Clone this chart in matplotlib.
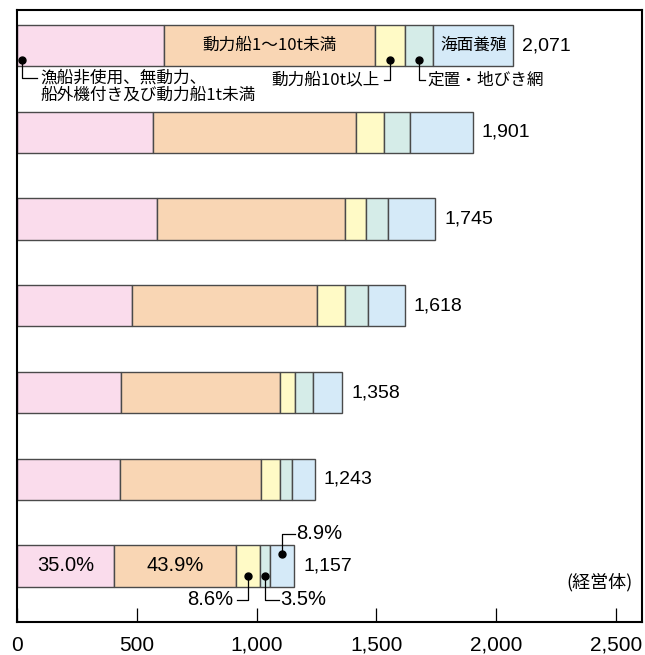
import numpy as np
import matplotlib.pyplot as plt

plt.rcParams['font.family'] = ['Liberation Sans', 'Noto Sans CJK JP']
jp = ['Noto Sans CJK JP']

# segment values per bar, top bar first (経営体)
non_powered = [613, 568, 583, 479, 436, 431, 405]
powered_1_10t = [881, 848, 785, 771, 661, 589, 508]
powered_10t_over = [125, 114, 90, 120, 65, 77, 100]
set_net = [117, 111, 92, 96, 74, 50, 41]
aquaculture = [335, 260, 195, 152, 122, 96, 103]
totals = [2071, 1901, 1745, 1618, 1358, 1243, 1157]
last_shares = ['35.0%', '43.9%', '8.6%', '3.5%', '8.9%']

series = [non_powered, powered_1_10t, powered_10t_over, set_net, aquaculture]
colors = ['#fadcec', '#f9d6b4', '#fffac6', '#d5ece8', '#d5eaf8']
edge = '#4a4a4a'

fig = plt.figure(figsize=(6.45, 6.55), dpi=100)
ax = fig.add_axes([17 / 645, 33 / 655, 625 / 645, 612 / 655])

n = len(totals)
y = np.arange(n)[::-1]
left = np.zeros(n)
for vals, c in zip(series, colors):
    ax.barh(y, vals, left=left, height=0.475, color=c, edgecolor=edge, linewidth=1.0)
    left += np.array(vals)

for yi, t in zip(y, totals):
    ax.annotate(f'{t:,}', (t, yi), xytext=(6.5, 0), textcoords='offset points',
                ha='left', va='center', fontsize=14)

cum = np.cumsum(np.array(series), axis=0)
top, bot = y[0], y[-1]

# labels for the top bar
ax.text((cum[0][0] + cum[1][0]) / 2, top, '動力船1～10t未満', ha='center', va='center',
        fontsize=12, family=jp)
ax.text((cum[3][0] + cum[4][0]) / 2, top, '海面養殖', ha='center', va='center', fontsize=12, family=jp)

dot = dict(marker='o', ms=5, color='black', zorder=5)
line = dict(color='black', lw=0.9, zorder=5)

# pink
px = 20
ax.plot([px], [top - 0.167], **dot)
ax.plot([px, px, 85], [top - 0.167, top - 0.37, top - 0.37], **line)
ax.text(96, top - 0.37, '漁船非使用、無動力、', ha='left', va='center', fontsize=12, family=jp)
ax.text(96, top - 0.57, '船外機付き及び動力船1t未満', ha='left', va='center', fontsize=12, family=jp)
# yellow
yx = (cum[1][0] + cum[2][0]) / 2
ax.plot([yx], [top - 0.167], **dot)
ax.plot([yx, yx, yx - 25], [top - 0.167, top - 0.40, top - 0.40], **line)
ax.text(yx - 42, top - 0.40, '動力船10t以上', ha='right', va='center', fontsize=12, family=jp)
# teal
tx = (cum[2][0] + cum[3][0]) / 2
ax.plot([tx], [top - 0.167], **dot)
ax.plot([tx, tx, tx + 25], [top - 0.167, top - 0.40, top - 0.40], **line)
ax.text(tx + 37, top - 0.40, '定置・地びき網', ha='left', va='center', fontsize=12, family=jp)

# shares on the bottom bar
ax.text(cum[0][-1] / 2, bot, last_shares[0], ha='center', va='center', fontsize=14.5)
ax.text((cum[0][-1] + cum[1][-1]) / 2, bot, last_shares[1], ha='center', va='center', fontsize=14.5)
x2 = (cum[1][-1] + cum[2][-1]) / 2
ax.plot([x2], [bot - 0.115], **dot)
ax.plot([x2, x2, x2 - 46], [bot - 0.115, bot - 0.39, bot - 0.39], **line)
ax.text(x2 - 60, bot - 0.39, last_shares[2], ha='right', va='center', fontsize=14.5)
x3 = (cum[2][-1] + cum[3][-1]) / 2
ax.plot([x3], [bot - 0.115], **dot)
ax.plot([x3, x3, x3 + 58], [bot - 0.115, bot - 0.39, bot - 0.39], **line)
ax.text(x3 + 64, bot - 0.39, last_shares[3], ha='left', va='center', fontsize=14.5)
x4 = (cum[3][-1] + cum[4][-1]) / 2
ax.plot([x4], [bot + 0.14], **dot)
ax.plot([x4, x4, x4 + 54], [bot + 0.14, bot + 0.37, bot + 0.37], **line)
ax.text(x4 + 60, bot + 0.37, last_shares[4], ha='left', va='center', fontsize=14.5)

ax.text(2567, bot - 0.185, '(経営体)', ha='right', va='center', fontsize=13, family=jp)

ax.set_xlim(0, 2608)
ax.set_ylim(-0.646, n - 1 + 0.41)
ax.set_xticks([0, 500, 1000, 1500, 2000, 2500])
ax.set_xticklabels(['0', '500', '1,000', '1,500', '2,000', '2,500'])
ax.tick_params(axis='x', direction='in', length=10, width=0.9, labelsize=15, pad=10)
ax.set_yticks([])
for s in ax.spines.values():
    s.set_linewidth(1.5)

fig.savefig('out.png', dpi=100)
